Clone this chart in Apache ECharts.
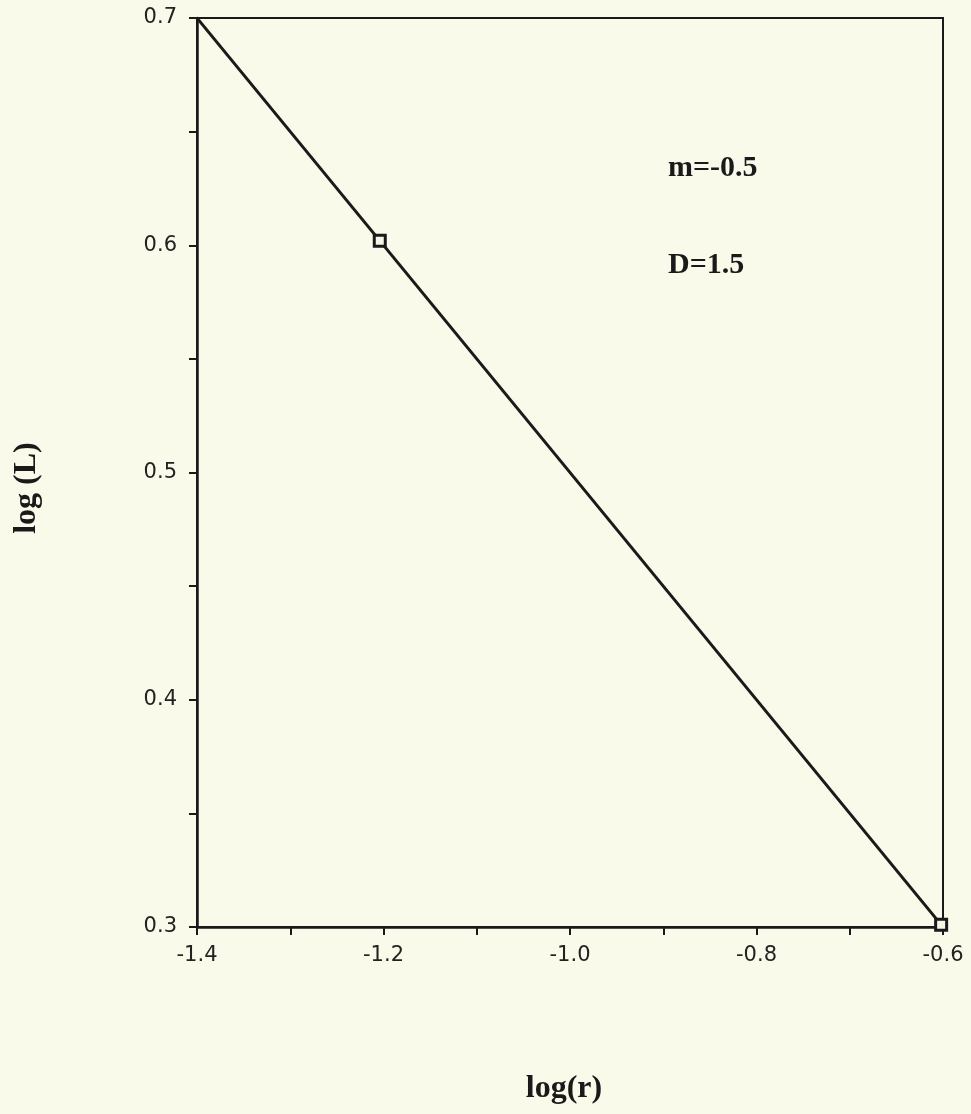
<!DOCTYPE html>
<html>
<head>
<meta charset="utf-8">
<script src="https://cdn.jsdelivr.net/npm/echarts@6/dist/echarts.min.js"></script>
<style>
  html, body { margin: 0; padding: 0; background: #fafaea; }
  #chart { width: 971px; height: 1114px; }
</style>
</head>
<body>
<div id="chart"></div>
<script>
// Fitted line of log(L) against log(r), slope -0.5
const fitLine = [[-1.4, 0.7], [-0.6, 0.3]];
// Measured points: log(1/16), log(4) and log(1/4), log(2)
const measured = [[-1.204, 0.602], [-0.602, 0.301]];
// Axis ranges and tick spacing
const xRange = { min: -1.4, max: -0.6, step: 0.2 };
const yRange = { min: 0.3, max: 0.7, step: 0.1 };
// Annotation texts
const notes = ['m=-0.5', 'D=1.5'];
const xTitle = 'log(r)';
const yTitle = 'log (L)';

const ink = '#1a1a1a';
const serif = '"Liberation Serif", "Times New Roman", serif';
const sans = '"DejaVu Sans", sans-serif';

const chart = echarts.init(document.getElementById('chart'));
chart.setOption({
  backgroundColor: '#fafaea',
  animation: false,
  grid: {
    left: 197, right: 28, top: 18, bottom: 187,
    show: true, borderColor: ink, borderWidth: 2, backgroundColor: 'transparent'
  },
  xAxis: {
    type: 'value', min: xRange.min, max: xRange.max, interval: xRange.step,
    axisLine: { show: true, lineStyle: { color: ink, width: 2.5 } },
    axisTick: { show: true, inside: false, length: 8, lineStyle: { color: ink, width: 2 } },
    minorTick: { show: true, splitNumber: 2, length: 8, lineStyle: { color: ink, width: 2 } },
    splitLine: { show: false },
    axisLabel: {
      margin: 18, color: '#222', fontSize: 21, fontFamily: sans,
      formatter: v => v.toFixed(1)
    }
  },
  yAxis: {
    type: 'value', min: yRange.min, max: yRange.max, interval: yRange.step,
    axisLine: { show: true, lineStyle: { color: ink, width: 2.5 } },
    axisTick: { show: true, inside: false, length: 8, lineStyle: { color: ink, width: 2 } },
    minorTick: { show: true, splitNumber: 2, length: 8, lineStyle: { color: ink, width: 2 } },
    splitLine: { show: false },
    axisLabel: {
      margin: 20, color: '#222', fontSize: 21, fontFamily: sans,
      formatter: v => v.toFixed(1)
    }
  },
  series: [
    {
      type: 'line', data: fitLine, showSymbol: false, clip: false,
      lineStyle: { color: ink, width: 2.8 }
    },
    {
      type: 'scatter', data: measured, symbol: 'rect', symbolSize: 11, clip: false,
      itemStyle: { color: '#f6f5e6', borderColor: ink, borderWidth: 3, opacity: 1 },
      z: 5
    }
  ],
  graphic: [
    {
      type: 'text', x: 668, y: 168,
      style: { text: notes[0], font: 'bold 30px ' + serif, fill: ink, align: 'left', verticalAlign: 'middle' }
    },
    {
      type: 'text', x: 668, y: 265,
      style: { text: notes[1], font: 'bold 30px ' + serif, fill: ink, align: 'left', verticalAlign: 'middle' }
    },
    {
      type: 'text', x: 564, y: 1089,
      style: { text: xTitle, font: 'bold 32px ' + serif, fill: ink, align: 'center', verticalAlign: 'middle' }
    },
    {
      type: 'text', x: 27, y: 488, rotation: Math.PI / 2,
      style: { text: yTitle, font: 'bold 32px ' + serif, fill: ink, align: 'center', verticalAlign: 'middle' }
    }
  ]
});
</script>
</body>
</html>
